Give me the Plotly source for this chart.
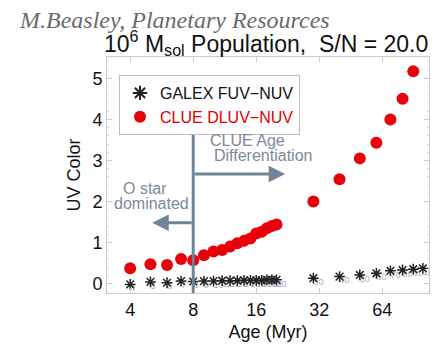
import math
import plotly.graph_objects as go

ages = [4, 5, 6, 7, 8, 9, 10, 11, 12, 13, 14, 15, 16, 17, 18, 19, 20, 30, 40, 50, 60, 70, 80, 90, 100]
clue = [0.37, 0.47, 0.45, 0.60, 0.57, 0.69, 0.78, 0.82, 0.90, 0.98, 1.04, 1.10, 1.22, 1.26, 1.35, 1.40,
        1.44, 2.00, 2.54, 3.05, 3.43, 4.00, 4.50, 5.17, None]
galex = [-0.02, 0.04, 0.02, 0.06, 0.05, 0.06, 0.06, 0.07, 0.07, 0.07, 0.08, 0.08, 0.08, 0.08, 0.09, 0.09,
         0.09, 0.13, 0.17, 0.21, 0.25, 0.31, 0.33, 0.35, 0.37]
age_labels = [str(a) for a in ages]
xticks = [4, 8, 16, 32, 64]
yticks = [0, 1, 2, 3, 4, 5]

FONT = "Liberation Sans, Arial, sans-serif"
SLATE = "#6f8496"
TXT = "#7b8a99"

# page offset of the plot div (default body margin)
OFF = 8
W, H = 448, 348
L, T = 107 - OFF, 57 - OFF
pw, ph = 322, 236
R = W - L - pw
B = H - T - ph

fig = go.Figure()

fig.add_trace(go.Scatter(
    x=ages, y=galex, mode="text", text=age_labels, textposition="bottom right",
    textfont=dict(size=9, color="#a3b0c0", family=FONT), showlegend=False, hoverinfo="skip"))

fig.add_trace(go.Scatter(
    x=ages, y=galex, mode="markers", name="GALEX FUV\u2212NUV",
    marker=dict(symbol="asterisk-open", size=9, color="#222", line=dict(color="#222", width=1.5))))

fig.add_trace(go.Scatter(
    x=ages, y=clue, mode="markers", name="<span style='color:#e00000'>CLUE DLUV\u2212NUV</span>",
    marker=dict(symbol="circle", size=12, color="#e8000a"),
    error_y=dict(type="constant", value=0.06, color="#4a3a80", thickness=1, width=1.5)))

fig.add_shape(type="line", x0=8, x1=8, y0=-0.23, y1=4.0, xref="x", yref="y",
              line=dict(color=SLATE, width=3))

fig.add_annotation(x=math.log10(22), y=2.67, ax=math.log10(8), ay=2.67, xref="x", yref="y",
                   axref="x", ayref="y", showarrow=True, arrowhead=2, arrowsize=1.1,
                   arrowwidth=3, arrowcolor=SLATE, text="")
fig.add_annotation(x=math.log10(5.1), y=1.48, ax=math.log10(8), ay=1.48, xref="x", yref="y",
                   axref="x", ayref="y", showarrow=True, arrowhead=2, arrowsize=1.1,
                   arrowwidth=3, arrowcolor=SLATE, text="")


def pix_note(px, py, text, size, color, family=FONT, angle=0):
    fig.add_annotation(x=(px - OFF - L) / pw, y=(OFF + T + ph - py) / ph,
                       xref="paper", yref="paper", xanchor="center", yanchor="middle",
                       text=text, showarrow=False, textangle=angle,
                       font=dict(size=size, color=color, family=family))


pix_note(247, 140, "CLUE Age", 16, TXT)
pix_note(263, 155, "Differentiation", 16, TXT)
pix_note(145, 188, "O star", 16, TXT)
pix_note(151, 203, "dominated", 16, TXT)
pix_note(266, 43, "10<sup>6</sup> M<sub>sol</sub> Population,  S/N = 20.0", 23, "#111")
pix_note(174, 20, "<i>M.Beasley, Planetary Resources</i>", 24, "#6a6a6a", "Liberation Serif, serif")
pix_note(-4, 175, "Normalized Filter Transmission", 14, "#9a9a9a", angle=-90)

fig.update_layout(
    width=W, height=H, margin=dict(l=L, r=R, t=T, b=B),
    paper_bgcolor="white", plot_bgcolor="white",
    font=dict(family=FONT, size=18, color="#111"),
    showlegend=True,
    legend=dict(x=(119 - OFF - L) / pw, y=(OFF + T + ph - 75) / ph, xanchor="left", yanchor="top",
                bgcolor="white", bordercolor="#bbbbbb", borderwidth=1, itemwidth=30,
                font=dict(size=16, color="#111"), tracegroupgap=0, itemsizing="constant"),
    xaxis=dict(type="log", range=[math.log10(3.1), math.log10(107)], tickvals=xticks,
               ticktext=[str(t) for t in xticks], showgrid=False, zeroline=False, automargin=False,
               showline=True, linecolor="#cccccc", mirror="ticks", ticks="inside",
               ticklen=5, tickcolor="#cccccc", tickfont=dict(size=18),
               title=dict(text="Age (Myr)", font=dict(size=18), standoff=6)),
    yaxis=dict(range=[-0.23, 5.52], tickvals=yticks, showgrid=False, zeroline=False, automargin=False,
               showline=True, linecolor="#cccccc", mirror="ticks", ticks="inside",
               ticklen=5, tickcolor="#cccccc", tickfont=dict(size=18),
               minor=dict(ticks="inside", ticklen=2, dtick=0.2, tickcolor="#dddddd"),
               title=dict(text="UV Color", font=dict(size=18), standoff=7)),
)

fig.write_html("out.html")
